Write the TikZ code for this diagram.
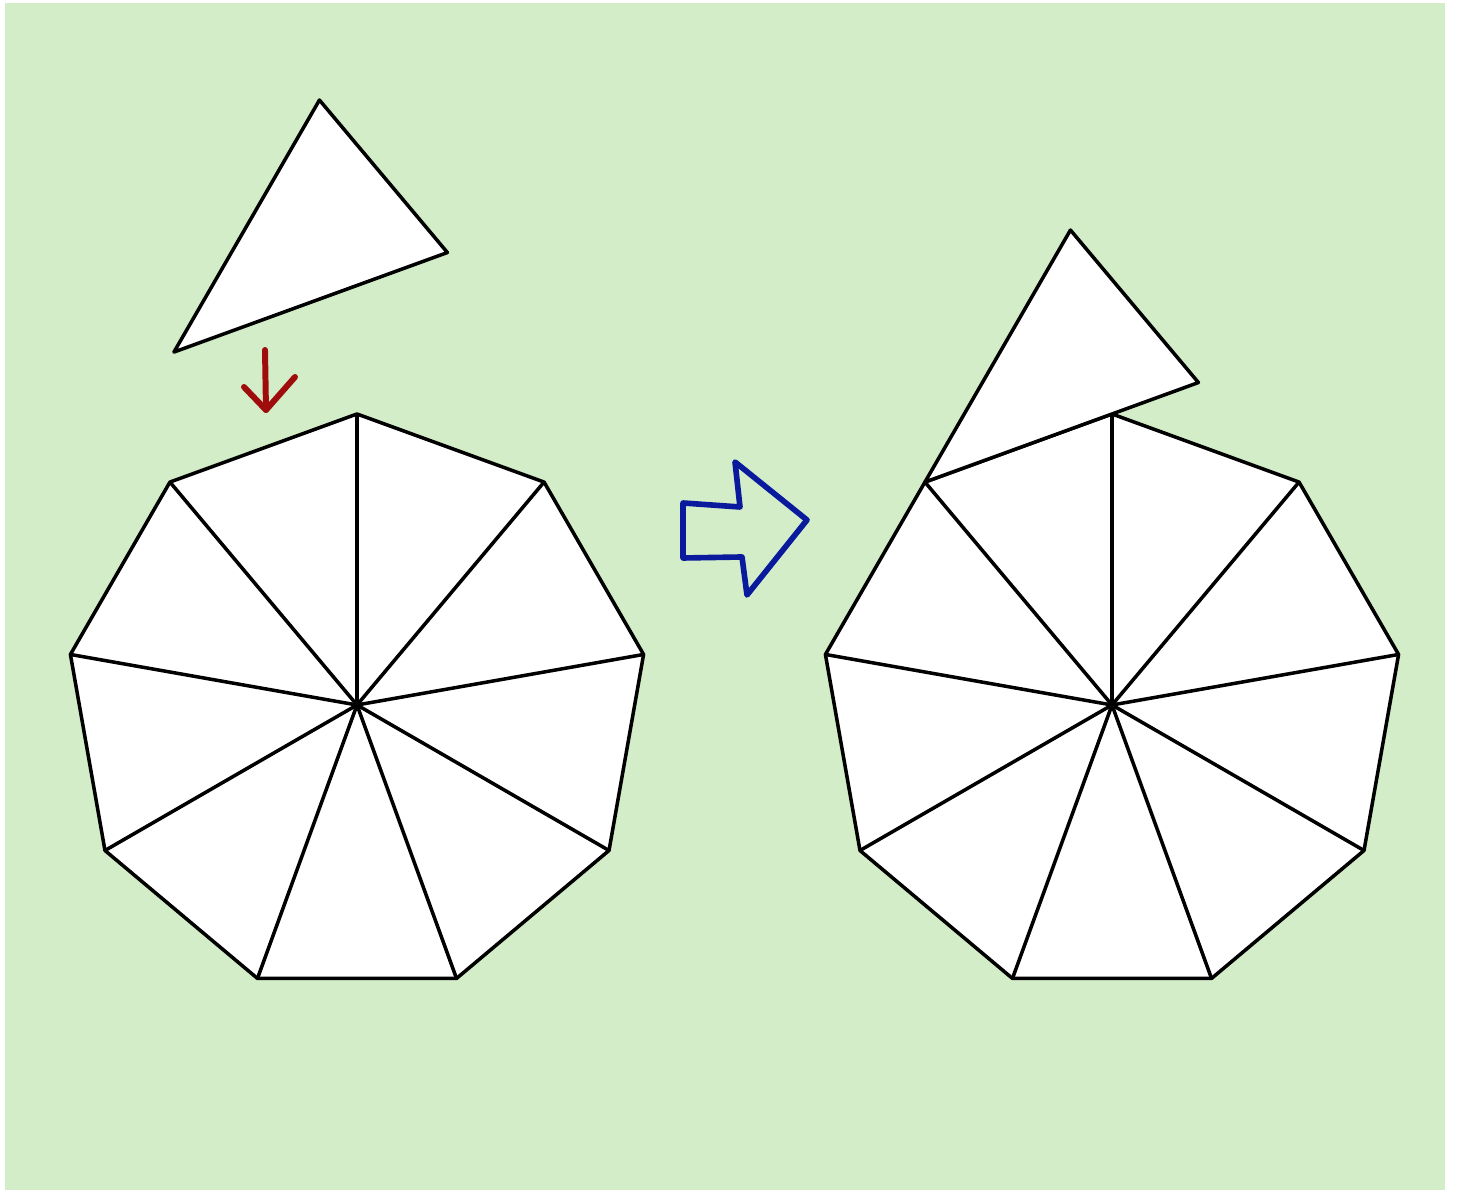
\documentclass[tikz,border=0pt]{standalone}
\usepackage{xcolor}
\usepackage{tikz}
\usetikzlibrary{calc}

\definecolor{paper}{HTML}{D2EDC8}
\definecolor{redpen}{HTML}{9E0C0C}
\definecolor{bluepen}{HTML}{0A1A9C}

\begin{document}
\begin{tikzpicture}[
  x=1cm,
  y=1cm,
  face/.style={fill=white, draw=black, line width=1pt, line join=round},
  spoke/.style={draw=black, line width=1pt},
  redstroke/.style={draw=redpen, line width=1.7pt, line cap=round, line join=round},
  bluestroke/.style={draw=bluepen, line width=1.6pt, line join=round}
]
  \useasboundingbox (0,0) rectangle (14.57,11.92);
  \fill[paper] (0.05,0.02) rectangle (14.45,11.89);

  % the two nonagons, cut into nine slices
  \foreach \offset in {3.57,11.12} {
    \begin{scope}[shift={(\offset,4.87)}]
      \draw[face] (90:2.91) \foreach \k in {1,...,8} { -- (90+40*\k:2.91) } -- cycle;
      \foreach \k in {0,...,8}
        \draw[spoke] (0,0) -- (90+40*\k:2.91);
    \end{scope}
  }

  % the extra slice: lifted on the left, fitted on the right
  \foreach \sx/\sy in {3.61/6.17, 11.12/4.87} {
    \begin{scope}[shift={(\sx,\sy)}]
      \coordinate (apex) at (130:2.91);
      \draw[face] (apex) -- ($(apex)+(20:2.91)$) -- ($(apex)+(60:2.91)$) -- cycle;
    \end{scope}
  }

  % hand-drawn marks
  \coordinate (droptip) at (2.66,7.82);
  \draw[redstroke] (2.65,8.42) -- (droptip);
  \draw[redstroke] (2.44,8.05) -- (droptip) -- (2.95,8.15);

  \draw[bluestroke] (7.35,7.30) -- (8.07,6.72) -- (7.47,5.97) -- (7.42,6.35)
    -- (6.83,6.34) -- (6.83,6.89) -- (7.40,6.85) -- cycle;
\end{tikzpicture}
\end{document}
